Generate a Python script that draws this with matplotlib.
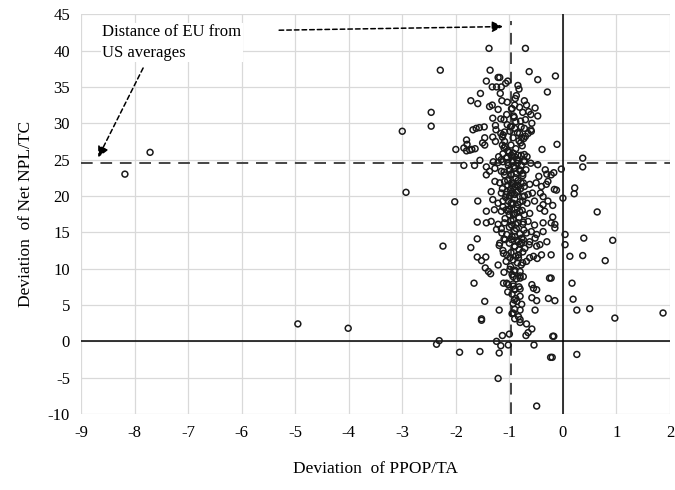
import matplotlib
matplotlib.use("Agg")
import matplotlib.pyplot as plt
import numpy as np

plt.rcParams["font.family"] = ["Liberation Serif", "DejaVu Serif"]
plt.rcParams["axes.unicode_minus"] = False

# points far away from the main cloud
far_pts = [(-8.18, 23.0), (-7.71, 26.0), (-4.95, 2.4), (-4.01, 1.8),
           (-3.0, 28.9), (-2.93, 20.5), (-2.46, 31.5), (-2.46, 29.6),
           (-2.29, 37.3), (-2.24, 13.1), (-2.31, 0.1), (-2.36, -0.4),
           (-1.93, -1.5), (-2.02, 19.2)]

# points right of the zero line (and near it)
right_pts = [(-0.11, 27.1), (0.37, 25.2), (0.37, 24.0), (-0.03, 23.7),
             (-0.12, 20.8), (-0.16, 20.9), (0.22, 21.1), (0.21, 20.3),
             (0.0, 19.7), (0.64, 17.8), (0.04, 14.7), (0.04, 13.3),
             (0.39, 14.2), (0.93, 13.9), (0.13, 11.7), (0.37, 11.8),
             (0.79, 11.1), (0.17, 8.0), (0.19, 5.8), (0.26, 4.3),
             (0.5, 4.5), (0.97, 3.2), (1.87, 3.9), (0.26, -1.8),
             (-0.19, 0.7), (-0.2, -2.2), (-0.22, 8.7), (-0.15, 5.6),
             (-0.15, 16.1), (-0.19, 17.1), (-0.19, 18.7)]

# upper part of the cloud
upper_pts = [(-1.38, 40.3), (-0.70, 40.3), (-1.36, 37.3), (-0.63, 37.1),
             (-0.14, 36.5), (-0.47, 36.0), (-1.43, 35.8), (-1.21, 36.3),
             (-1.18, 36.3), (-1.03, 35.8), (-1.32, 35.0), (-1.24, 35.0),
             (-1.15, 35.0), (-1.07, 35.5), (-0.84, 35.2), (-0.82, 34.7),
             (-0.29, 34.3), (-1.54, 34.1), (-1.17, 34.1), (-0.87, 33.8),
             (-0.89, 33.4), (-1.72, 33.1), (-1.59, 32.7), (-1.14, 33.1),
             (-1.04, 32.9), (-0.72, 33.1), (-0.68, 32.5), (-0.52, 32.1),
             (-1.37, 32.3), (-1.32, 32.5), (-1.21, 31.9), (-0.96, 32.0),
             (-0.90, 32.5), (-0.81, 32.2), (-0.64, 31.6), (-0.60, 31.2),
             (-0.47, 31.0), (-1.31, 30.7), (-1.16, 30.6), (-1.05, 31.2),
             (-0.91, 30.8), (-0.79, 30.3), (-0.70, 30.5),
             (-1.04, 29.8), (-0.96, 29.6), (-0.90, 29.3), (-0.78, 29.5),
             (-0.72, 29.3), (-0.60, 29.1), (-0.58, 30.0), (-1.68, 29.1),
             (-1.62, 29.3), (-1.56, 29.4), (-1.47, 29.5), (-1.25, 29.1),
             (-1.26, 29.7), (-1.16, 28.6), (-1.09, 28.8), (-0.99, 28.9),
             (-0.81, 28.6), (-0.70, 28.2), (-0.65, 28.6), (-0.59, 28.9),
             (-1.46, 28.0), (-1.31, 28.1), (-1.26, 27.5), (-1.13, 28.1),
             (-1.09, 27.5), (-0.79, 27.3), (-0.77, 28.0), (-1.80, 27.7),
             (-1.79, 27.1), (-1.50, 27.3), (-1.46, 27.0),
             (-2.0, 26.4), (-1.85, 26.6), (-1.80, 26.2), (-1.74, 26.3),
             (-1.70, 26.4), (-1.64, 26.5), (-0.39, 26.4), (-1.13, 27.0),
             (-1.10, 26.6), (-1.03, 26.2), (-0.93, 25.9), (-0.84, 25.6),
             (-0.78, 25.6), (-0.72, 25.7), (-0.67, 25.4), (-1.20, 25.4),
             (-1.12, 25.8), (-1.06, 25.2)]

# middle part of the cloud
middle_pts = [(-1.55, 24.9), (-1.30, 24.7), (-1.21, 24.6), (-1.12, 24.7),
              (-1.03, 24.6), (-0.94, 24.7), (-0.84, 24.9), (-0.72, 24.7),
              (-0.60, 24.5), (-0.47, 24.3), (-1.85, 24.2), (-1.65, 24.2),
              (-1.43, 24.0), (-1.37, 23.4), (-1.43, 22.9),
              (-1.27, 23.8), (-1.15, 23.4), (-1.09, 22.9), (-1.0, 23.6),
              (-0.96, 22.9), (-0.87, 23.1), (-0.81, 23.6), (-0.75, 23.1),
              (-0.69, 23.6), (-0.45, 22.7), (-0.33, 23.6), (-0.30, 23.0),
              (-0.22, 22.9), (-0.17, 23.2), (-0.28, 22.0), (-0.31, 21.6),
              (-1.27, 22.0), (-1.18, 21.8), (-1.09, 22.0), (-1.03, 21.5),
              (-0.96, 21.8), (-0.90, 21.3), (-0.84, 21.5), (-0.78, 21.8),
              (-0.72, 21.3), (-0.62, 21.6), (-0.50, 21.8), (-0.40, 21.3),
              (-1.34, 20.6), (-1.15, 20.4), (-1.06, 20.2), (-0.96, 20.4),
              (-0.84, 20.6), (-0.75, 19.9), (-0.65, 20.2), (-0.57, 20.4),
              (-0.42, 20.4), (-0.37, 19.9), (-1.59, 19.3), (-1.31, 19.5),
              (-1.21, 19.0), (-1.12, 19.3), (-1.02, 19.3), (-0.93, 19.0),
              (-0.84, 18.8), (-0.75, 19.3), (-0.67, 19.0), (-0.53, 19.3),
              (-0.37, 18.8), (-0.28, 19.3),
              (-1.43, 17.9), (-1.28, 18.1), (-1.15, 17.9), (-1.06, 18.1),
              (-1.0, 17.4), (-0.90, 17.6), (-0.81, 17.9), (-0.72, 17.4),
              (-0.62, 17.6), (-0.43, 18.3), (-0.34, 17.9),
              (-1.60, 16.4), (-1.43, 16.3), (-1.34, 16.5), (-1.21, 16.1),
              (-1.09, 16.3), (-0.96, 16.0), (-0.84, 16.3), (-0.75, 16.1),
              (-0.65, 16.5), (-0.53, 16.0), (-0.37, 16.3), (-0.22, 16.3)]

# lower part of the cloud
lower_pts = [(-1.24, 15.4), (-1.14, 14.9), (-1.05, 14.7), (-0.90, 14.4),
             (-0.77, 14.2), (-0.68, 14.9), (-0.59, 15.1), (-0.49, 14.7),
             (-0.37, 15.1), (-0.15, 15.6), (-1.60, 14.1), (-1.18, 13.5),
             (-1.08, 14.0), (-0.83, 13.7), (-0.74, 14.0), (-0.62, 13.7),
             (-0.52, 14.2), (-0.43, 13.3), (-0.30, 13.7), (-1.72, 12.9),
             (-1.19, 13.2), (-0.90, 13.1), (-0.80, 13.4), (-0.71, 12.8),
             (-0.63, 13.3), (-0.49, 13.1), (-0.22, 11.9), (-1.60, 11.6),
             (-1.52, 11.1), (-1.44, 11.6), (-1.11, 12.1), (-1.05, 11.9),
             (-0.99, 11.5), (-0.83, 11.9), (-0.75, 10.8), (-0.68, 11.0),
             (-0.62, 11.5), (-0.55, 11.7), (-0.48, 11.4), (-0.40, 11.9),
             (-1.45, 10.1), (-1.39, 9.6), (-1.35, 9.3), (-1.21, 10.5),
             (-0.99, 9.9), (-0.90, 9.6), (-0.80, 9.6), (-0.93, 8.9),
             (-0.80, 8.7), (-0.74, 8.9), (-0.25, 8.7), (-1.66, 8.0),
             (-1.11, 8.0), (-1.02, 7.8), (-0.93, 7.6), (-0.90, 7.1),
             (-0.80, 7.2), (-0.58, 7.8), (-0.55, 7.3), (-0.49, 7.1),
             (-0.91, 5.7), (-0.86, 5.5), (-0.77, 5.1), (-0.80, 4.3),
             (-0.58, 6.0), (-0.49, 5.6), (-0.52, 4.3), (-0.27, 5.9),
             (-1.46, 5.5), (-1.19, 4.3), (-1.52, 3.1), (-0.93, 3.9),
             (-0.83, 3.4), (-0.80, 3.0),
             (-1.52, 2.9), (-0.90, 3.1), (-0.80, 2.6), (-0.68, 2.4),
             (-0.58, 1.7), (-0.65, 1.2), (-0.69, 0.8), (-1.13, 0.8),
             (-1.0, 1.0), (-1.24, 0.0), (-1.16, -0.6), (-1.02, -0.5),
             (-1.19, -1.6), (-0.54, -0.5), (-0.17, 0.7), (-1.55, -1.4),
             (-0.23, -2.2), (-1.21, -5.1), (-0.49, -8.9)]

# densest column around the EU average
column_pts = [(-0.95, 32.0), (-0.92, 31.0), (-0.88, 30.2), (-0.98, 29.5),
              (-0.85, 28.7), (-0.93, 28.0), (-0.82, 27.6), (-0.97, 27.0),
              (-0.88, 26.5), (-1.0, 26.0), (-0.90, 25.4), (-0.95, 24.8),
              (-0.85, 24.5), (-1.02, 24.2), (-0.90, 23.8), (-0.80, 23.4),
              (-0.97, 23.0), (-0.88, 22.5), (-1.03, 22.1), (-0.92, 21.7),
              (-0.83, 21.3), (-0.98, 20.9), (-0.87, 20.5), (-1.0, 20.0),
              (-0.90, 19.6), (-0.80, 19.2), (-0.95, 18.8), (-0.85, 18.3),
              (-1.02, 17.9), (-0.92, 17.4), (-0.82, 17.0), (-0.97, 16.6),
              (-0.88, 16.1), (-1.0, 15.7), (-0.90, 15.2), (-0.80, 14.8),
              (-0.95, 14.4), (-0.85, 13.9), (-1.0, 13.5), (-0.90, 13.0),
              (-0.82, 12.6), (-0.97, 12.2), (-0.88, 11.7), (-0.93, 11.2),
              (-0.85, 10.8), (-0.98, 10.3), (-0.90, 9.8), (-0.95, 9.2),
              (-0.87, 8.6), (-0.93, 7.9), (-0.90, 7.2), (-0.95, 6.5),
              (-0.88, 5.9), (-0.93, 5.2), (-0.90, 4.4), (-0.95, 3.8),
              (-1.10, 30.5), (-0.75, 31.5), (-1.12, 28.4), (-0.73, 27.9),
              (-1.08, 26.8), (-0.76, 26.9), (-1.15, 25.0), (-0.72, 24.9),
              (-1.10, 23.3), (-0.75, 22.8), (-1.13, 21.0), (-0.74, 21.8),
              (-1.07, 19.8), (-0.72, 20.0), (-1.12, 18.5), (-0.76, 18.0),
              (-1.08, 16.9), (-0.74, 16.4), (-1.15, 15.5), (-0.73, 15.3),
              (-1.10, 14.1), (-0.77, 13.6), (-1.12, 12.5), (-0.75, 12.3),
              (-1.06, 11.0), (-0.78, 10.5), (-1.10, 9.5), (-0.80, 9.0),
              (-1.05, 8.0), (-0.82, 7.5), (-1.03, 6.8), (-0.80, 6.2),
              (-0.96, 25.6), (-0.86, 25.0), (-0.99, 23.6), (-0.84, 22.1),
              (-0.95, 21.4), (-0.90, 20.2), (-0.97, 19.0), (-0.86, 17.7),
              (-0.93, 16.8), (-0.87, 15.5), (-0.96, 14.0), (-0.83, 11.5),
              (-1.0, 18.2), (-0.79, 21.0), (-1.05, 20.6), (-0.92, 24.1),
              (-1.04, 25.3), (-0.78, 24.2)]

eu_x_avg = -0.97
eu_y_avg = 24.5

pts = np.array(far_pts + right_pts + upper_pts + middle_pts + lower_pts + column_pts)

fig = plt.figure(figsize=(6.75, 4.9), dpi=100)
ax = fig.add_axes([0.12, 0.155, 0.8726, 0.816])

ax.scatter(pts[:, 0], pts[:, 1], s=18, facecolors='none', edgecolors='#1a1a1a',
           linewidths=1.1, zorder=3)

ax.axhline(0, color='black', lw=1.1, zorder=2)
ax.axvline(0, color='black', lw=1.1, zorder=2)
ax.axhline(eu_y_avg, color='#444444', lw=1.4, ls=(0, (6, 4)), zorder=2)
ax.plot([eu_x_avg, eu_x_avg], [-10, 44], color='#444444', lw=1.4,
        ls=(0, (6, 4)), zorder=2)

ax.set_xlim(-9, 2)
ax.set_ylim(-10, 45)
ax.set_xticks(np.arange(-9, 3, 1))
ax.set_yticks(np.arange(-10, 50, 5))
ax.grid(True, color='#d9d9d9', lw=0.9)
ax.set_axisbelow(True)
for s in ax.spines.values():
    s.set_visible(False)
ax.tick_params(length=0, labelsize=12, pad=8)

ax.set_xlabel('Deviation  of PPOP/TA', fontsize=12.5, labelpad=14)
ax.set_ylabel('Deviation  of Net NPL/TC', fontsize=12.5, labelpad=10)

ax.text(-8.6, 43.6, 'Distance of EU from\nUS averages', fontsize=12,
        va='top', ha='left', linespacing=1.35,
        bbox=dict(facecolor='white', edgecolor='none', pad=1))

arrow_kw = dict(arrowstyle='-|>', color='black', lw=1.1, ls=(0, (3, 2)),
                mutation_scale=16, shrinkA=0, shrinkB=0)
ax.annotate('', xy=(-1.12, 43.3), xytext=(-5.3, 42.8), arrowprops=arrow_kw)
ax.annotate('', xy=(-8.68, 25.3), xytext=(-7.84, 37.6), arrowprops=arrow_kw)

fig.savefig('out.png', dpi=100)
